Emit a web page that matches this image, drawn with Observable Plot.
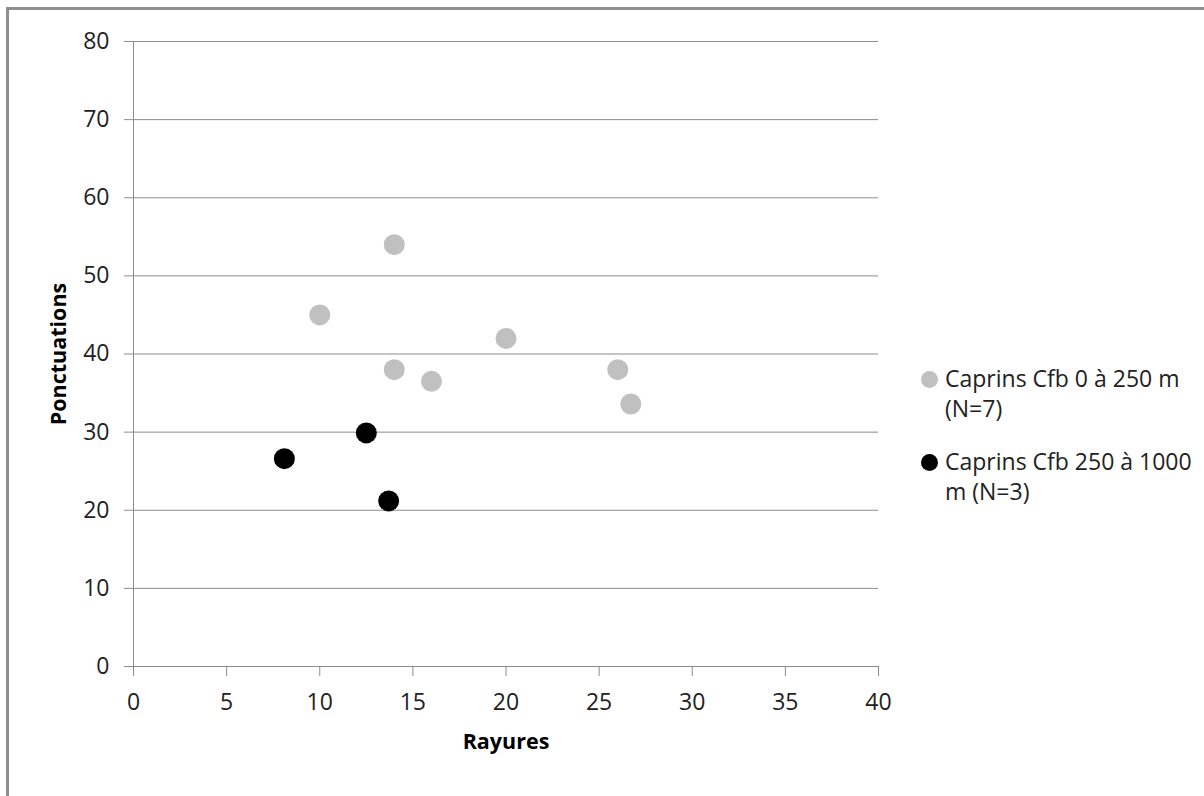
<!DOCTYPE html>
<html>
<head>
<meta charset="utf-8">
<script src="https://cdn.jsdelivr.net/npm/d3@7"></script>
<script src="https://cdn.jsdelivr.net/npm/@observablehq/plot@0.6"></script>
<style>
  html, body { margin: 0; padding: 0; background: #fff; overflow: hidden; }
  #wrap { position: relative; width: 1204px; height: 796px; font-family: "Open Sans", "Noto Sans", sans-serif; }
  #chart svg g[aria-label="x-axis tick label"] text,
  #chart svg g[aria-label="y-axis tick label"] text { font-size: 23px; }
  #chart svg g[aria-label="x-axis label"] text,
  #chart svg g[aria-label="y-axis label"] text { font-size: 21.5px; font-weight: bold; fill: #000; }
  #frame { position: absolute; left: 6px; top: 7px; width: 1300px; height: 900px; border-left: 3px solid #8f8f8f; border-top: 3px solid #8f8f8f; pointer-events: none; }
  #legend { position: absolute; left: 921px; top: 363px; font-size: 23px; color: #222; line-height: 30px; white-space: nowrap; }
  .item { position: relative; padding-left: 24px; margin-bottom: 23px; }
  .sw { position: absolute; left: 0; top: 7.5px; width: 17px; height: 17px; border-radius: 50%; }
</style>
</head>
<body>
<div id="wrap">
  <div id="chart"></div>
  <div id="legend"></div>
  <div id="frame"></div>
</div>
<script>
const seriesNames = ["Caprins Cfb 0 à 250 m (N=7)", "Caprins Cfb 250 à 1000 m (N=3)"];
const seriesColors = ["#c0c0c0", "#000000"];
const grayX = [10, 14, 14, 16, 20, 26, 26.7];
const grayY = [45, 54, 38, 36.5, 42, 38, 33.6];
const blackX = [8.1, 12.5, 13.7];
const blackY = [26.6, 29.9, 21.2];
const xTicks = [0, 5, 10, 15, 20, 25, 30, 35, 40];
const yTicks = [0, 10, 20, 30, 40, 50, 60, 70, 80];
const xLabel = "Rayures";
const yLabel = "Ponctuations";

const data = [
  ...grayX.map((x, i) => ({x, y: grayY[i], s: seriesNames[0]})),
  ...blackX.map((x, i) => ({x, y: blackY[i], s: seriesNames[1]}))
];

const chart = Plot.plot({
  width: 1204,
  height: 796,
  marginLeft: 133,
  marginRight: 326,
  marginTop: 41,
  marginBottom: 130,
  style: {fontFamily: '"Open Sans", "Noto Sans", sans-serif', fontSize: "23px", color: "#222", background: "transparent"},
  x: {domain: [0, 40]},
  y: {domain: [0, 80]},
  color: {domain: seriesNames, range: seriesColors},
  marks: [
    Plot.gridY(yTicks, {stroke: "#8c8c8c", strokeOpacity: 1}),
    Plot.ruleX([0], {stroke: "#8c8c8c"}),
    Plot.ruleY([0], {stroke: "#8c8c8c"}),
    Plot.axisX(xTicks, {tickSize: 10, tickPadding: 17, stroke: "#8c8c8c", fill: "#222", fontSize: 23, label: null}),
    Plot.axisY(yTicks, {tickSize: 9, tickPadding: 15, stroke: "#8c8c8c", fill: "#222", fontSize: 23, label: null}),
    Plot.axisX({ticks: [], label: xLabel, labelAnchor: "center", labelArrow: "none", labelOffset: 82}),
    Plot.axisY({ticks: [], label: yLabel, labelAnchor: "center", labelArrow: "none", labelOffset: 83}),
    Plot.dot(data, {x: "x", y: "y", fill: "s", r: 10.5})
  ]
});
document.getElementById("chart").appendChild(chart);

const legend = document.getElementById("legend");
const legendLines = [["Caprins Cfb 0 à 250 m", "(N=7)"], ["Caprins Cfb 250 à 1000", "m (N=3)"]];
seriesNames.forEach((n, i) => {
  const item = document.createElement("div");
  item.className = "item";
  const sw = document.createElement("span");
  sw.className = "sw";
  sw.style.background = seriesColors[i];
  item.appendChild(sw);
  legendLines[i].forEach(l => {
    const d = document.createElement("div");
    d.textContent = l;
    item.appendChild(d);
  });
  legend.appendChild(item);
});
</script>
</body>
</html>
